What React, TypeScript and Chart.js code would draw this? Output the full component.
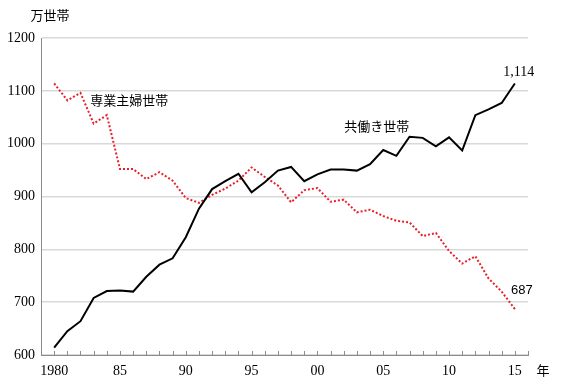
import React, { useEffect, useRef } from "react";
import { Chart, registerables } from "chart.js";
Chart.register(...registerables);

const years = [
  1980, 1981, 1982, 1983, 1984, 1985, 1986, 1987, 1988, 1989,
  1990, 1991, 1992, 1993, 1994, 1995, 1996, 1997, 1998, 1999,
  2000, 2001, 2002, 2003, 2004, 2005, 2006, 2007, 2008, 2009,
  2010, 2011, 2012, 2013, 2014, 2015,
];
const dualIncome = [
  614, 645, 664, 708, 721, 722, 720, 748, 771, 783,
  823, 877, 914, 929, 943, 908, 927, 949, 956, 929,
  942, 951, 951, 949, 961, 988, 977, 1013, 1011, 995,
  1012, 987, 1054, 1065, 1077, 1114,
];
const housewife = [
  1114, 1082, 1096, 1038, 1054, 952, 952, 933, 946, 930,
  897, 888, 903, 915, 930, 955, 937, 921, 889, 912,
  916, 890, 894, 870, 875, 863, 854, 851, 825, 831,
  797, 773, 787, 745, 720, 687,
];
const xLabelYears = [1980, 1985, 1990, 1995, 2000, 2005, 2010, 2015];
const xLabelTexts = ["1980", "85", "90", "95", "00", "05", "10", "15"];
const seriesNames = ["共働き世帯", "専業主婦世帯"];
const unitLabel = "万世帯";
const yearLabel = "年";

const NUM_FONT = "'Liberation Serif', serif";
const JP_FONT = "'Noto Sans CJK JP', sans-serif";

const overlayPlugin = {
  id: "overlay",
  afterDraw(chart: any) {
    const ctx = chart.ctx;
    const xs = chart.scales.x;
    const ys = chart.scales.y;
    const bottom = chart.chartArea.bottom;
    ctx.save();
    // inward tick marks
    ctx.strokeStyle = "#8c8c8c";
    ctx.lineWidth = 1;
    for (let v = xs.min; v <= xs.max; v++) {
      const px = Math.round(xs.getPixelForValue(v)) + 0.5;
      ctx.beginPath();
      ctx.moveTo(px, bottom);
      ctx.lineTo(px, bottom - 4);
      ctx.stroke();
    }
    ctx.fillStyle = "#000";
    ctx.textBaseline = "middle";
    // series labels
    ctx.font = "13px " + JP_FONT;
    ctx.textAlign = "center";
    ctx.fillText(seriesNames[1], xs.getPixelForValue(1985.7), ys.getPixelForValue(1083));
    ctx.fillText(seriesNames[0], xs.getPixelForValue(2004.5), ys.getPixelForValue(1034));
    // unit label
    ctx.fillText(unitLabel, chart.chartArea.left + 9, ys.getPixelForValue(1200) - 23);
    ctx.fillText(yearLabel, xs.getPixelForValue(2016) + 15, bottom + 15);
    // end values
    const last = years.length - 1;
    ctx.font = "14px " + NUM_FONT;
    ctx.fillText(
      dualIncome[last].toLocaleString("en-US"),
      xs.getPixelForValue(years[last]) + 4,
      ys.getPixelForValue(dualIncome[last]) - 11
    );
    ctx.font = "13px 'Liberation Sans', sans-serif";
    ctx.fillText(
      String(housewife[last]),
      xs.getPixelForValue(years[last]) + 7,
      ys.getPixelForValue(housewife[last]) - 19
    );
    ctx.restore();
  },
};

export default function App() {
  const ref = useRef<HTMLCanvasElement | null>(null);
  useEffect(() => {
    document.body.style.margin = "0";
    const canvas = ref.current!;
    const chart = new Chart(canvas, {
      type: "line",
      data: {
        datasets: [
          {
            label: seriesNames[0],
            data: years.map((y, i) => ({ x: y, y: dualIncome[i] })),
            borderColor: "#000000",
            borderWidth: 2,
            pointRadius: 0,
            tension: 0,
          },
          {
            label: seriesNames[1],
            data: years.map((y, i) => ({ x: y, y: housewife[i] })),
            borderColor: "#e8202a",
            borderWidth: 2,
            borderDash: [2, 2],
            pointRadius: 0,
            tension: 0,
          },
        ],
      },
      options: {
        animation: false,
        responsive: false,
        devicePixelRatio: 1,
        layout: { padding: { top: 38, right: 43, left: 0, bottom: 0 } },
        plugins: { legend: { display: false }, tooltip: { enabled: false } },
        scales: {
          x: {
            type: "linear",
            min: 1979,
            max: 2016,
            afterFit: (s: any) => {
              s.height = 37;
            },
            grid: { drawOnChartArea: false, drawTicks: false },
            border: { display: true, color: "#8c8c8c", width: 1 },
            ticks: {
              stepSize: 1,
              autoSkip: false,
              maxRotation: 0,
              padding: 8,
              color: "#000",
              font: { family: NUM_FONT, size: 14 },
              callback: (v: any) => {
                const idx = xLabelYears.indexOf(Number(v));
                return idx >= 0 ? xLabelTexts[idx] : "";
              },
            },
          },
          y: {
            min: 600,
            max: 1200,
            afterFit: (s: any) => {
              s.width = 41;
            },
            grid: { color: "#d9d9d9", lineWidth: 1.5, drawTicks: false },
            border: { display: true, color: "#8c8c8c", width: 1 },
            ticks: {
              stepSize: 100,
              padding: 6,
              color: "#000",
              font: { family: NUM_FONT, size: 14 },
              callback: (v: any) => String(v),
            },
          },
        },
      },
      plugins: [overlayPlugin],
    } as any);
    return () => chart.destroy();
  }, []);
  return (
    <div style={{ width: 571, height: 392 }}>
      <canvas ref={ref} width={571} height={392} style={{ display: "block" }} />
    </div>
  );
}
